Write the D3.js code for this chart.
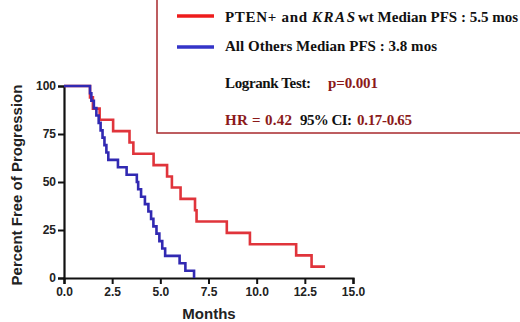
<!DOCTYPE html>
<html><head><meta charset="utf-8">
<script src="https://cdn.jsdelivr.net/npm/d3@7"></script>
<style>body{margin:0;background:#fff}svg{display:block}</style>
</head><body>
<svg id="c" width="520" height="322"></svg>
<script>
// Kaplan-Meier steps: time (months) and survival (%) after each event
const redTimes  = [1.35, 1.5, 1.85, 2.55, 3.4, 3.6, 4.65, 5.35, 5.6, 6.05, 6.8, 6.88, 8.45, 9.65, 12.05, 12.85];
const redValues = [94.1, 88.2, 82.4, 76.5, 70.6, 64.7, 58.8, 52.9, 47.1, 41.2, 35.3, 29.4, 23.5, 17.6, 11.8, 5.9];
const redEnd = 13.55;
const blueTimes  = [1.35, 1.42, 1.55, 1.68, 1.8, 1.9, 2.0, 2.1, 2.2, 2.3, 2.8, 3.25, 3.78, 3.85, 4.0, 4.2, 4.38, 4.52, 4.64, 4.8, 4.95, 5.1, 5.25, 6.0, 6.3, 6.75];
const blueValues = [96.2, 92.3, 88.5, 84.6, 80.8, 76.9, 73.1, 69.2, 65.4, 61.5, 57.7, 53.8, 50.0, 46.2, 42.3, 38.5, 34.6, 30.8, 26.9, 23.1, 19.2, 15.4, 11.5, 7.7, 3.8, 0];
const blueEnd = 6.75;
const xTicks = [0, 2.5, 5, 7.5, 10, 12.5, 15];
const yTicks = [0, 25, 50, 75, 100];

const svg = d3.select("#c");
const x = d3.scaleLinear().domain([0, 15]).range([64, 353]);
const y = d3.scaleLinear().domain([0, 100]).range([278, 86]);

function kmPoints(times, values, end) {
  const pts = [[0, 100]];
  times.forEach((t, i) => pts.push([t, values[i]]));
  pts.push([end, values[values.length - 1]]);
  return pts;
}
const line = d3.line().x(d => x(d[0])).y(d => y(d[1])).curve(d3.curveStepAfter);

// axes
const xAxis = svg.append("g").attr("transform", "translate(0,278)")
  .call(d3.axisBottom(x).tickValues(xTicks).tickFormat(d3.format(".1f")).tickSize(6).tickPadding(3));
const yAxis = svg.append("g").attr("transform", "translate(64,0)")
  .call(d3.axisLeft(y).tickValues(yTicks).tickFormat(d3.format("d")).tickSize(6).tickPadding(2));
[xAxis, yAxis].forEach(g => {
  g.select(".domain").attr("stroke", "#111").attr("stroke-width", 2.2);
  g.selectAll(".tick line").attr("stroke", "#111").attr("stroke-width", 2);
  g.selectAll("text").attr("fill", "#222").style("font-family", "Liberation Sans, Arial, sans-serif")
    .style("font-weight", "bold").style("font-size", "12px");
});

svg.append("path").attr("d", line(kmPoints(redTimes, redValues, redEnd)))
  .attr("fill", "none").attr("stroke", "#e0343b").attr("stroke-width", 2.6);
svg.append("path").attr("d", line(kmPoints(blueTimes, blueValues, blueEnd)))
  .attr("fill", "none").attr("stroke", "#3129b2").attr("stroke-width", 2.6);

// axis titles
svg.append("text").attr("transform", "translate(22,185) rotate(-90)")
  .attr("text-anchor", "middle").attr("fill", "#222")
  .style("font-family", "Liberation Sans, Arial, sans-serif").style("font-weight", "bold").style("font-size", "15px")
  .text("Percent Free of Progression");
svg.append("text").attr("x", 209).attr("y", 319).attr("text-anchor", "middle").attr("fill", "#222")
  .style("font-family", "Liberation Sans, Arial, sans-serif").style("font-weight", "bold").style("font-size", "15px")
  .text("Months");

// legend box
const lg = svg.append("g").style("font-family", "Liberation Serif, Times New Roman, serif")
  .style("font-weight", "bold").style("font-size", "15px");
lg.append("rect").attr("x", 157).attr("y", -2).attr("width", 400).attr("height", 135)
  .attr("fill", "#fff").attr("stroke", "#a8282c").attr("stroke-width", 1.5);
lg.append("line").attr("x1", 177).attr("x2", 214).attr("y1", 16).attr("y2", 16)
  .attr("stroke", "#ee1c1c").attr("stroke-width", 3.5);
lg.append("line").attr("x1", 177).attr("x2", 214).attr("y1", 47).attr("y2", 47)
  .attr("stroke", "#3434c8").attr("stroke-width", 3.5);
function lt(xp, yp, w, col, txt, italic) {
  const t = lg.append("text").attr("x", xp).attr("y", yp).attr("fill", col)
    .attr("textLength", w).attr("lengthAdjust", "spacing").text(txt);
  if (italic) t.style("font-style", "italic");
  return t;
}
lt(225, 22, 82, "#111", "PTEN+ and");
lt(312, 22, 43, "#111", "KRAS", true);
lt(358, 22, 160, "#111", "wt Median PFS : 5.5 mos");
lt(225, 51, 212, "#111", "All Others Median PFS : 3.8 mos");
lt(225, 88, 86, "#111", "Logrank Test:");
lt(328, 88, 50, "#8b1a1a", "p=0.001");
lt(225, 125, 67, "#8b1a1a", "HR = 0.42");
lt(300, 125, 52, "#111", "95% CI:");
lt(357, 125, 55, "#8b1a1a", "0.17-0.65");
</script>
</body></html>
